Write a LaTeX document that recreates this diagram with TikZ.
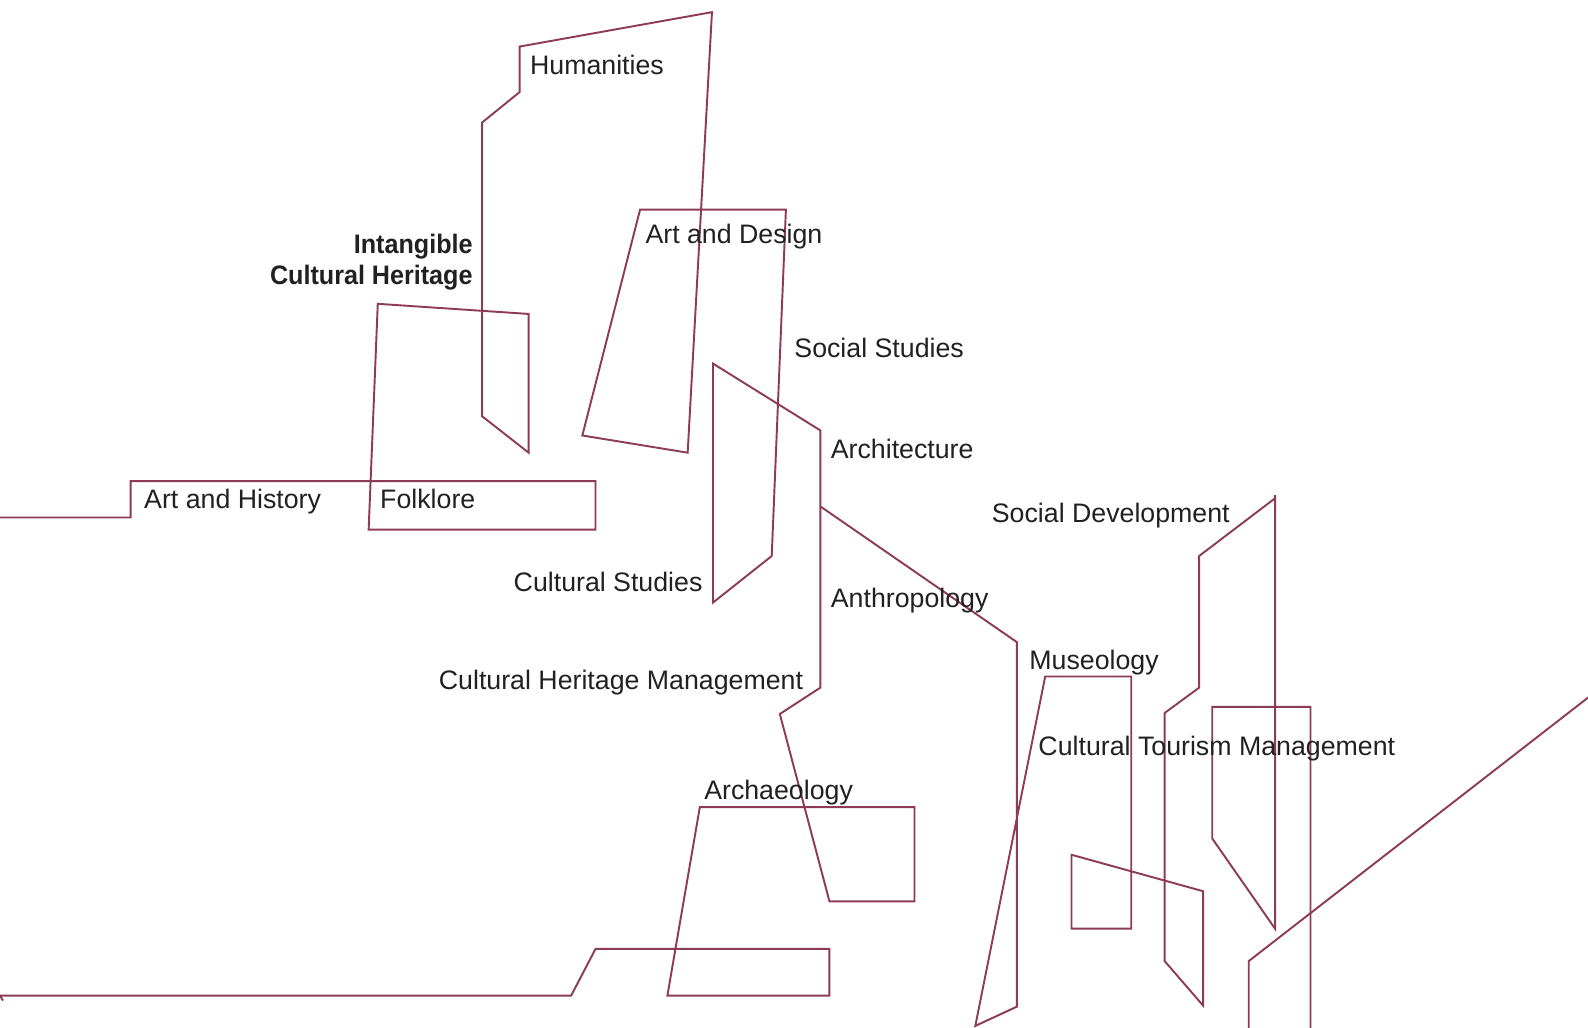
\documentclass[tikz,border=0pt]{standalone}
\usepackage{fontspec}
\setmainfont{Liberation Sans}
\newfontfamily\narrowsans[FakeStretch=0.94]{Liberation Sans}
\definecolor{linecol}{RGB}{142,58,89}
\definecolor{txtcol}{RGB}{33,33,33}
\tikzset{
  trail/.style={draw=linecol, line width=0.95pt, line join=miter},
  lbl/.style={text=txtcol, inner sep=0pt, font=\fontsize{13.2}{15.5}\selectfont},
  lblb/.style={lbl, font=\narrowsans\fontsize{13.2}{15.5}\selectfont\bfseries, align=right}
}
\begin{document}
\begin{tikzpicture}[x=0.5pt,y=-0.5pt]
\path[use as bounding box] (0,0) rectangle (1568,1015);
\fill[white] (0,0) rectangle (1568,1015);
\begin{scope}
\clip (0,0) rectangle (1568,1015);
% main trail
\draw[trail] (-5,511) -- (129,511) -- (129,475) -- (588,475) -- (588,523) -- (364,523)
  -- (373,300) -- (522,310) -- (522,447) -- (476,411) -- (476,121) -- (513,91)
  -- (513,46) -- (703,12) -- (679,447) -- (575,430) -- (632,207) -- (776,207)
  -- (762,549) -- (704,595) -- (704,359) -- (810,425) -- (810,679) -- (770,705)
  -- (819,890) -- (903,890) -- (903,797) -- (691,797) -- (659,983) -- (819,983)
  -- (819,937) -- (588,937) -- (564,983) -- (0,983) -- (3,988);
% branch trail
\draw[trail] (810,500) -- (1004,634) -- (1004,994) -- (963,1013) -- (1032,668)
  -- (1117,668) -- (1117,917) -- (1058,917) -- (1058,844) -- (1188,880)
  -- (1188,993) -- (1150,949) -- (1150,704) -- (1184,679) -- (1184,549)
  -- (1259,492);
\draw[trail] (1259,489) -- (1259,917) -- (1197,828) -- (1197,698) -- (1294,698)
  -- (1294,1030);
\draw[trail] (1233,1030) -- (1233,949) -- (1600,664);
\end{scope}
% labels
\node[lbl, anchor=base west] (hum) at (523,74) {Humanities};
\node[lblb, anchor=base east] (ich) at (467,281) {Intangible\\Cultural Heritage};
\node[lbl, anchor=base west] (ad) at (637,240) {Art and Design};
\node[lbl, anchor=base west] (ss) at (784,353) {Social Studies};
\node[lbl, anchor=base west] (arch) at (820,453) {Architecture};
\node[lbl, anchor=base west] (ah) at (142,502) {Art and History};
\node[lbl, anchor=base west] (folk) at (375,502) {Folklore};
\node[lbl, anchor=base west] (sd) at (979,516) {Social Development};
\node[lbl, anchor=base east] (cs) at (694,584) {Cultural Studies};
\node[lbl, anchor=base west] (anth) at (820,600) {Anthropology};
\node[lbl, anchor=base west] (mus) at (1016,661) {Museology};
\node[lbl, anchor=base west] (chm) at (433,681) {Cultural Heritage Management};
\node[lbl, anchor=base west] (ctm) at (1025,746) {Cultural Tourism Management};
\node[lbl, anchor=base west] (arc) at (695,789) {Archaeology};
\end{tikzpicture}
\end{document}
